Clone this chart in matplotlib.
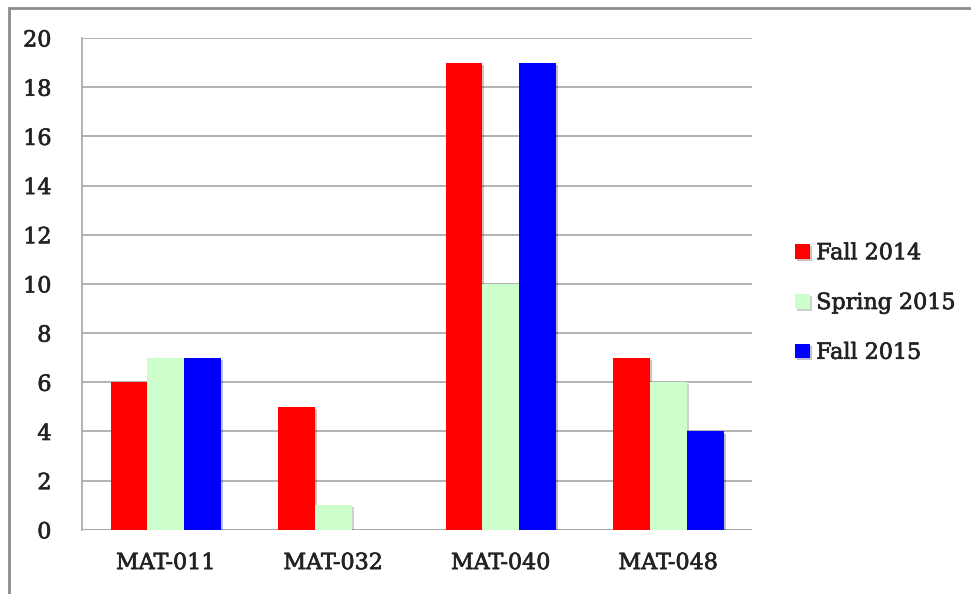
import matplotlib.pyplot as plt
import matplotlib.patheffects as pe
from matplotlib.patches import Rectangle
import numpy as np

courses = ["MAT-011", "MAT-032", "MAT-040", "MAT-048"]
fall_2014 = [6, 5, 19, 7]
spring_2015 = [7, 1, 10, 6]
fall_2015 = [7, 0, 19, 4]

series = [("Fall 2014", fall_2014, "#ff0000"),
          ("Spring 2015", spring_2015, "#ccffcc"),
          ("Fall 2015", fall_2015, "#0000ff")]

plt.rcParams['font.family'] = ['DejaVu Serif']
text_fx = [pe.withStroke(linewidth=0.5, foreground="#222222")]

fig = plt.figure(figsize=(9.71, 5.94), dpi=100)
ax = fig.add_axes([0.0845, 0.108, 0.69, 0.828])

x = np.arange(len(courses))
width = 0.22
shadow = [pe.SimplePatchShadow(offset=(1.5, -1.5), alpha=0.25), pe.Normal()]
for i, (name, vals, color) in enumerate(series):
    bars = ax.bar(x + (i - 1) * width, vals, width, color=color, label=name, zorder=3)
    for b in bars:
        b.set_path_effects(shadow)

ax.set_xlim(-0.5, len(courses) - 0.5)
ax.set_ylim(0, 20)
ax.set_yticks(range(0, 21, 2))
ax.set_xticks(x)
ax.set_xticklabels(courses)
ax.yaxis.grid(True, color="#a6a6a6", linewidth=1.2, zorder=0)
ax.tick_params(axis="both", length=0, labelsize=16, colors="#222222")
ax.tick_params(axis="y", pad=22)
ax.tick_params(axis="x", pad=16)
for lbl in ax.get_xticklabels() + ax.get_yticklabels():
    lbl.set_path_effects(text_fx)
for side in ["top", "right", "bottom"]:
    ax.spines[side].set_visible(False)
ax.spines["left"].set_color("#a6a6a6")
ax.spines["left"].set_linewidth(1.2)
ax.axhline(0, color="#a6a6a6", linewidth=1.2, zorder=2)

leg = fig.legend(loc="center left", bbox_to_anchor=(784 / 971, 1 - 303 / 594),
                 frameon=False, fontsize=16, handlelength=0.65, handleheight=0.65,
                 handletextpad=0.3, labelspacing=1.25, borderpad=0)
for t in leg.get_texts():
    t.set_color("#222222")
    t.set_path_effects(text_fx)

# outer chart frame
fig.patches.append(Rectangle((9 / 971, -0.05), 1.1, 1 - 8 / 594 + 0.05,
                             transform=fig.transFigure, fill=False,
                             edgecolor="#8c8c8c", linewidth=2))

fig.savefig("out.png", dpi=100)
